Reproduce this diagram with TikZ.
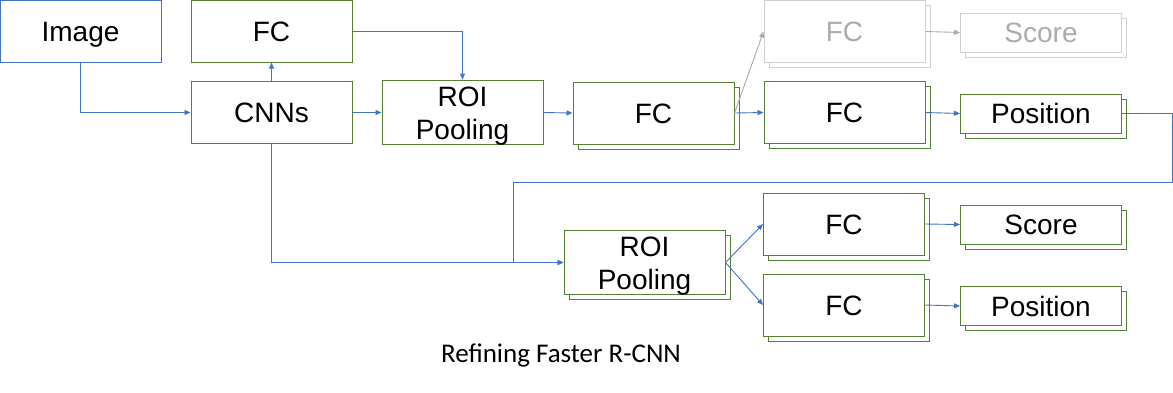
\documentclass[tikz,border=0pt]{standalone}
\usepackage{fontspec}
\setmainfont{Liberation Sans}
\newfontfamily\capfont{Carlito}
\usetikzlibrary{positioning, arrows.meta, shadows}
\definecolor{rcnnBlue}{RGB}{68,114,196}
\definecolor{rcnnGreen}{RGB}{84,130,53}
\definecolor{rcnnFade}{RGB}{208,208,208}
\definecolor{rcnnFadeLine}{RGB}{170,170,170}
\definecolor{rcnnFadeText}{RGB}{175,171,171}
\tikzset{
	block/.style={draw=rcnnGreen, line width=1pt, fill=white, inner sep=0pt, minimum width=161pt, minimum height=62pt, align=center, font=\fontsize{28}{33}\selectfont},
	oneline/.style={text height=20pt, text depth=0pt},
	stackblock/.style={block, draw=#1, copy shadow={shadow xshift=5pt, shadow yshift=-5pt, draw=#1, fill=white, line width=1pt}},
	stackblock/.default=rcnnGreen,
	outblock/.style={stackblock=#1, oneline, minimum height=39pt},
	outblock/.default=rcnnGreen,
	link/.style={rcnnBlue, line width=0.9pt, -{Triangle[length=6pt, width=5pt]}}
}

\begin{document}
\begin{tikzpicture}[x=1pt, y=-1pt]
	\useasboundingbox (0,0) rectangle (1173,392);
	\node[block, oneline, draw=rcnnBlue] (image) at (80.5,31.5) {Image};
	\node[block, oneline] (fcTop) at (271.5,31) {FC};
	\node[block, oneline] (cnns) at (271.5,112.5) {CNNs};
	\node[block] (roiA) at (462.5,112.5) {\rule{0pt}{26pt}ROI\\Pooling};
	\node[stackblock, oneline] (fcA) at (653.5,113) {FC};
	\node[stackblock=rcnnFade, oneline, text=rcnnFadeText] (fcFade) at (844.5,31.5) {FC};
	\node[outblock=rcnnFade, text=rcnnFadeText] (scoreFade) at (1041,32.5) {Score};
	\node[stackblock, oneline] (fcB) at (844.5,112.5) {FC};
	\node[outblock] (posA) at (1041,113.5) {Position};
	\node[stackblock] (roiB) at (644.5,262.5) {\rule{0pt}{26pt}ROI\\Pooling};
	\node[stackblock, oneline] (fcC) at (844,224) {FC};
	\node[outblock] (scoreB) at (1041,224.5) {Score};
	\node[stackblock, oneline] (fcD) at (844,305) {FC};
	\node[outblock] (posB) at (1041,306) {Position};
	\node[font=\capfont\fontsize{27}{30}\selectfont] (caption) at (561,355) {Refining Faster R-CNN};
	\coordinate (loopRight) at (1172,182);
	\coordinate (loopLeft) at (513,182);
	\draw[link] (image.south) |- (cnns.west);
	\draw[link] (cnns.north) -- (fcTop.south);
	\draw[link] (fcTop.east) -| (roiA.north);
	\draw[link] (cnns.east) -- (roiA.west);
	\draw[link] (roiA.east) -- (fcA.west);
	\draw[link] (fcA.east) -- (fcB.west);
	\draw[link, rcnnFadeLine] (fcA.east) -- (fcFade.west);
	\draw[link, rcnnFadeLine] (fcFade.east) -- (scoreFade.west);
	\draw[link] (fcB.east) -- (posA.west);
	\draw[link] (posA.east) -| (loopRight) -- (loopLeft) |- (roiB.west);
	\draw[link] (cnns.south) |- (roiB.west);
	\draw[link] (roiB.east) -- (fcC.west);
	\draw[link] (roiB.east) -- (fcD.west);
	\draw[link] (fcC.east) -- (scoreB.west);
	\draw[link] (fcD.east) -- (posB.west);
\end{tikzpicture}
\end{document}
